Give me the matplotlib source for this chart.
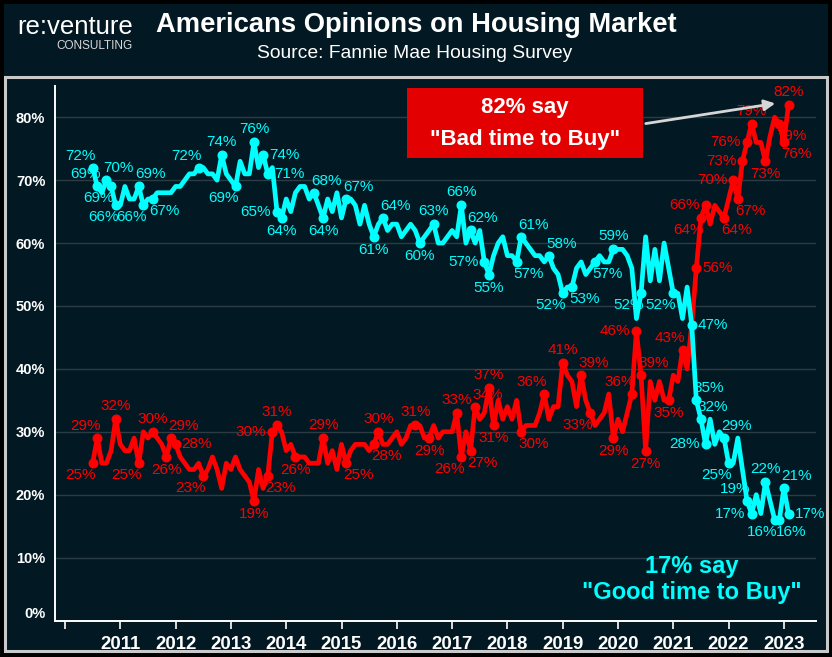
import matplotlib
matplotlib.use('Agg')
import matplotlib.pyplot as plt
from matplotlib import font_manager
from matplotlib.patches import Rectangle, FancyArrowPatch

# ---------------- data (monthly, Jul 2010 - Feb 2023) ----------------
start_year = 2010.5
good_time = [
    72, 69, 68, 70, 69, 66,
    66, 69, 67, 67, 69, 66, 67, 67, 68, 68, 68, 68,
    69, 69, 70, 71, 71, 72, 72, 71, 71, 70, 74, 71,
    70, 69, 73, 71, 71, 76, 72, 74, 71, 72, 65, 64,
    67, 65, 68, 69, 69, 67, 68, 66, 64, 67, 65, 68,
    64, 67, 67, 66, 63, 66, 63, 61, 63, 64, 62, 63,
    63, 61, 62, 63, 62, 60, 61, 62, 63, 60, 60, 61,
    62, 61, 66, 60, 62, 60, 62, 57, 55, 58, 60, 61,
    58, 58, 57, 61, 60, 59, 58, 58, 57, 58, 56, 55,
    52, 53, 53, 56, 57, 55, 56, 57, 58, 57, 57, 59,
    59, 59, 58, 56, 48, 52, 61, 54, 59, 54, 60, 56,
    52, 52, 48, 53, 47, 35, 32, 28, 32, 28, 30, 29,
    25, 25, 29, 24, 19, 17, 20, 17, 22, 19, 16, 16,
    21, 17,
]
bad_time = [
    25, 29, 25, 25, 27, 32,
    28, 27, 27, 29, 25, 30, 29, 30, 29, 28, 26, 29,
    28, 26, 25, 24, 24, 25, 23, 24, 26, 24, 21, 25,
    24, 26, 24, 23, 22, 19, 24, 21, 23, 30, 31, 30,
    27, 28, 26, 26, 26, 25, 25, 25, 29, 25, 27, 24,
    28, 25, 27, 28, 28, 28, 27, 28, 30, 28, 28, 29,
    30, 28, 29, 31, 31, 31, 29, 29, 31, 29, 30, 30,
    30, 33, 26, 30, 27, 34, 32, 33, 37, 31, 35, 32,
    34, 32, 35, 30, 31, 31, 31, 33, 36, 32, 34, 34,
    41, 39, 38, 34, 39, 35, 33, 31, 32, 33, 36, 29,
    32, 30, 33, 36, 46, 39, 27, 38, 35, 38, 35, 35,
    39, 38, 43, 40, 47, 56, 64, 66, 63, 66, 65, 64,
    67, 70, 67, 73, 76, 79, 76, 76, 73, 77, 80, 79,
    76, 82,
]

# which points carry a value label, and where the label sits
good_label_idx = [0, 1, 3, 4, 5, 10, 11, 13, 23, 28, 31, 35, 37, 38, 40, 41, 48, 50, 55, 61,
                  63, 71, 74, 80, 82, 85, 86, 92, 93, 99, 102, 104, 109, 113, 119, 126, 130,
                  131, 132, 133, 137, 138, 142, 143, 146, 148, 149, 150, 151]
good_label_pos = ['al', 'al', 'ar', 'bl', 'bl', 'ar', 'bl', 'br', 'al', 'a', 'bl', 'a', 'r', 'r', 'l', 'b',
                  'ar', 'b', 'ar', 'b', 'ar', 'b', 'a', 'a', 'ar', 'l', 'b', 'br', 'ar', 'ar', 'bl', 'br',
                  'br', 'a', 'bl', 'bl', 'r', 'ar', 'ar', 'l', 'ar', 'bl', 'al', 'l', 'a', 'bl', 'br', 'ar', 'r']
bad_label_idx = [0, 1, 5, 10, 13, 16, 17, 18, 24, 35, 38, 39, 40, 44, 50, 55, 61, 62, 70, 73,
                 79, 80, 82, 83, 86, 87, 93, 98, 102, 106, 108, 113, 117, 118, 119, 120, 125,
                 128, 131, 132, 133, 137, 139, 140, 141, 142, 143, 146, 149, 150, 151]
bad_label_pos = ['bl', 'al', 'a', 'bl', 'a', 'b', 'ar', 'r', 'bl', 'b', 'br', 'l', 'a', 'b', 'a', 'br',
                 'br', 'a', 'a', 'b', 'a', 'bl', 'br', 'ar', 'a', 'b', 'br', 'al', 'a', 'ar', 'bl', 'b',
                 'al', 'l', 'ar', 'b', 'b', 'al', 'r', 'bl', 'l', 'br', 'l', 'br', 'l', 'l', 'a', 'b',
                 'br', 'br', 'a']

year_ticks = list(range(2010, 2024))
year_labels = ['' if y == 2010 else str(y) for y in year_ticks]
pct_ticks = list(range(0, 81, 10))
pct_labels = [f'{p}%' for p in pct_ticks]

title = 'Americans Opinions on Housing Market'
subtitle = 'Source: Fannie Mae Housing Survey'
bad_note = ['82% say', '"Bad time to Buy"']
good_note = ['17% say', '"Good time to Buy"']

# ---------------- styling ----------------
names = {f.name for f in font_manager.fontManager.ttflist}
HAS_NARROW = 'Liberation Sans Narrow' in names
NARROW = 'Liberation Sans Narrow' if HAS_NARROW else 'Liberation Sans'
NS = 1.0 if HAS_NARROW else 0.84
ARIAL = 'Liberation Sans'

NAVY = '#021822'
CYAN = '#00ffff'
RED = '#ff0000'
GRID = '#2c3c45'

W, H = 832, 657
fig = plt.figure(figsize=(W / 100, H / 100), dpi=100, facecolor='black')


def fx(x):
    return x / W


def fy(y):
    return 1 - y / H


fig.add_artist(Rectangle((fx(4), fy(653)), 824 / W, 649 / H, transform=fig.transFigure,
                         facecolor=NAVY, edgecolor='none', zorder=0))
fig.add_artist(Rectangle((fx(5), fy(651)), 822 / W, 574 / H, transform=fig.transFigure,
                         facecolor='none', edgecolor='#c9c9c9', lw=2.2, zorder=1))

# header
fig.text(fx(416), fy(25), title, color='white', fontsize=23.5 * NS, fontweight='bold',
         family=NARROW, ha='center', va='center')
fig.text(fx(415), fy(53), subtitle, color='white', fontsize=16.5 * NS,
         family=NARROW, ha='center', va='center')
fig.text(fx(133), fy(27), 're:venture', color='white', fontsize=18.5, family=ARIAL,
         ha='right', va='center')
fig.text(fx(133), fy(46), 'CONSULTING', color='#d8d8d8', fontsize=8.5, family=ARIAL,
         ha='right', va='center')

# axes
ax_left, ax_right, ax_top, ax_bot = 55, 816, 85.8, 620.5
ax = fig.add_axes([fx(ax_left), fy(ax_bot), (ax_right - ax_left) / W, (ax_bot - ax_top) / H])
ax.set_facecolor('none')
x_min = 2010 + (ax_left - 65) / 55.3
x_max = 2010 + (ax_right - 65) / 55.3
ax.set_xlim(x_min, x_max)
ax.set_ylim(0, 85)

dates = [start_year + i / 12 for i in range(len(good_time))]

ax.set_yticks(pct_ticks)
ax.set_yticklabels(pct_labels)
ax.set_xticks(year_ticks)
ax.set_xticklabels(year_labels)
ax.grid(axis='y', color=GRID, lw=1.0, zorder=0)
ax.tick_params(axis='y', length=0, pad=7, labelcolor='white', labelsize=12.5 * NS)
ax.tick_params(axis='x', length=6, width=1.2, color='white', direction='out', pad=5,
               labelcolor='white', labelsize=16 * NS)
for lab in ax.get_yticklabels() + ax.get_xticklabels():
    lab.set_fontweight('bold')
    lab.set_family(NARROW)
ax.yaxis.get_major_ticks()[0].label1.set_va('bottom')
for s in ['top', 'right']:
    ax.spines[s].set_visible(False)
for s in ['left', 'bottom']:
    ax.spines[s].set_color('white')
    ax.spines[s].set_linewidth(1.4)

ax.plot(dates, bad_time, color=RED, lw=3.4, solid_joinstyle='round', zorder=3)
ax.plot(dates, good_time, color=CYAN, lw=3.4, solid_joinstyle='round', zorder=3)
ax.plot([dates[i] for i in bad_label_idx], [bad_time[i] for i in bad_label_idx], 'o',
        color=RED, ms=6.2, zorder=4)
ax.plot([dates[i] for i in good_label_idx], [good_time[i] for i in good_label_idx], 'o',
        color=CYAN, ms=6.2, zorder=4)

OFF = {'a': (0, 6, 'center', 'bottom'), 'b': (0, -6, 'center', 'top'),
       'l': (-6, 0, 'right', 'center'), 'r': (6, 0, 'left', 'center'),
       'al': (3, 5, 'right', 'bottom'), 'ar': (-3, 5, 'left', 'bottom'),
       'bl': (3, -5, 'right', 'top'), 'br': (-3, -5, 'left', 'top')}


def put_labels(idx, pos, values, color):
    for i, p in zip(idx, pos):
        dx, dy, ha, va = OFF[p]
        ax.annotate(f'{values[i]}%', (dates[i], values[i]), xytext=(dx, dy),
                    textcoords='offset pixels', ha=ha, va=va, color=color,
                    fontsize=11, family=ARIAL, zorder=5)


put_labels(bad_label_idx, bad_label_pos, bad_time, RED)
put_labels(good_label_idx, good_label_pos, good_time, CYAN)

# annotation box for "Bad time to Buy"
fig.add_artist(Rectangle((fx(407), fy(158)), 236 / W, 70 / H, transform=fig.transFigure,
                         facecolor='#e30000', edgecolor='none', zorder=6))
fig.text(fx(525), fy(108), bad_note[0], color='white', fontsize=16, fontweight='bold',
         family=ARIAL, ha='center', va='center', zorder=7)
fig.text(fx(525), fy(139), bad_note[1], color='white', fontsize=16, fontweight='bold',
         family=ARIAL, ha='center', va='center', zorder=7)
fig.add_artist(FancyArrowPatch((fx(643), fy(124)), (fx(778), fy(103)), transform=fig.transFigure,
                               arrowstyle='-|>', mutation_scale=16, color='#d6d6d6', lw=2,
                               zorder=7))

fig.text(fx(692), fy(566), good_note[0], color=CYAN, fontsize=17, fontweight='bold',
         family=ARIAL, ha='center', va='center')
fig.text(fx(692), fy(593), good_note[1], color=CYAN, fontsize=17, fontweight='bold',
         family=ARIAL, ha='center', va='center')

fig.savefig('out.png', dpi=100, facecolor='black')
